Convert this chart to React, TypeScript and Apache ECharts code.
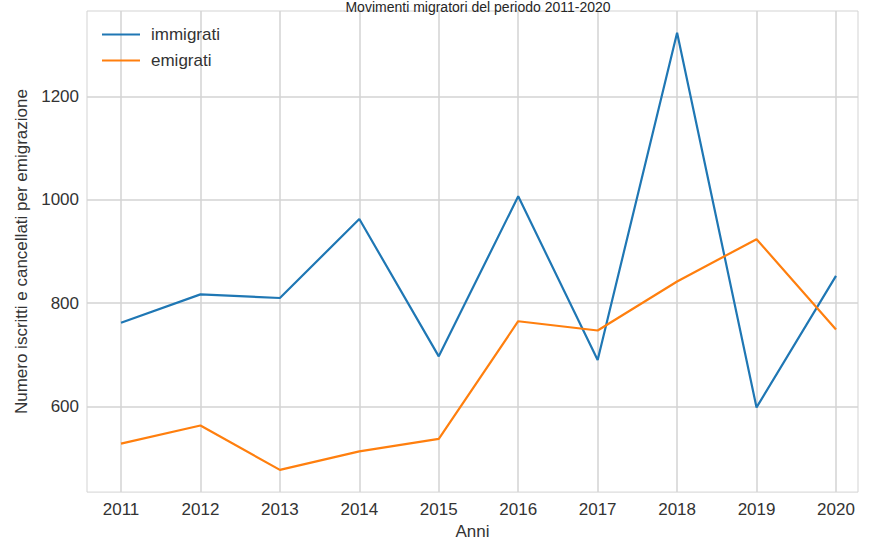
import React, { useEffect, useRef } from "react";
import * as echarts from "echarts";

const years = [2011, 2012, 2013, 2014, 2015, 2016, 2017, 2018, 2019, 2020];
const immigrati = [762, 817, 810, 963, 697, 1007, 690, 1324, 598, 853];
const emigrati = [528, 563, 477, 513, 537, 765, 747, 842, 924, 749];
const yTicks = [600, 800, 1000, 1200];

const titleText = "Movimenti migratori del periodo 2011-2020";
const xName = "Anni";
const yName = "Numero iscritti e cancellati per emigrazione";

export default function App() {
  const ref = useRef<HTMLDivElement>(null);
  useEffect(() => {
    if (!ref.current) return;
    const chart = echarts.init(ref.current, null, { renderer: "svg" });
    const font = "Liberation Sans";
    const textColor = "#333333";
    const gridColor = "#d3d3d3";
    chart.setOption({
      animation: false,
      backgroundColor: "#ffffff",
      title: {
        text: titleText,
        left: 478,
        textAlign: "center",
        top: 0,
        padding: 0,
        textStyle: { fontFamily: font, fontSize: 14, fontWeight: "normal", color: "#262626" },
      },
      legend: {
        orient: "vertical",
        left: 97,
        top: 21,
        itemWidth: 38,
        itemHeight: 14,
        itemGap: 9,
        icon: "path://M0,6 L38,6 L38,8 L0,8 Z",
        textStyle: { fontFamily: font, fontSize: 17, color: textColor, padding: [0, 0, 0, 6] },
        data: ["immigrati", "emigrati"],
      },
      grid: {
        left: 87,
        top: 11,
        width: 771,
        height: 486,
        show: true,
        borderColor: gridColor,
        borderWidth: 1,
        backgroundColor: "transparent",
      },
      xAxis: {
        type: "value",
        min: 2010.572,
        max: 2020.277,
        name: xName,
        nameLocation: "middle",
        nameGap: 29,
        nameTextStyle: { fontFamily: font, fontSize: 17, color: textColor },
        axisLine: { show: false },
        axisTick: { show: false, customValues: years },
        axisLabel: {
          customValues: years,
          formatter: (v: number) => String(Math.round(v)),
          fontFamily: font,
          fontSize: 17,
          color: textColor,
          margin: 9,
        },
        splitLine: { show: true, lineStyle: { color: gridColor, width: 1.5 } },
      },
      yAxis: {
        type: "value",
        min: 434,
        max: 1366,
        name: yName,
        nameLocation: "middle",
        nameGap: 53,
        nameTextStyle: { fontFamily: font, fontSize: 17, color: textColor },
        axisLine: { show: false },
        axisTick: { show: false, customValues: yTicks },
        axisLabel: {
          customValues: yTicks,
          formatter: (v: number) => String(Math.round(v)),
          fontFamily: font,
          fontSize: 17,
          color: textColor,
          margin: 8,
        },
        splitLine: { show: true, lineStyle: { color: gridColor, width: 1.5 } },
      },
      series: [
        {
          name: "immigrati",
          type: "line",
          data: years.map((y, i) => [y, immigrati[i]]),
          symbol: "none",
          lineStyle: { color: "#1f77b4", width: 2.2 },
          itemStyle: { color: "#1f77b4" },
        },
        {
          name: "emigrati",
          type: "line",
          data: years.map((y, i) => [y, emigrati[i]]),
          symbol: "none",
          lineStyle: { color: "#ff7f0e", width: 2.2 },
          itemStyle: { color: "#ff7f0e" },
        },
      ],
    });
    return () => chart.dispose();
  }, []);
  return (
    <div
      ref={ref}
      style={{ position: "absolute", left: 0, top: 0, width: 870, height: 545 }}
    />
  );
}
